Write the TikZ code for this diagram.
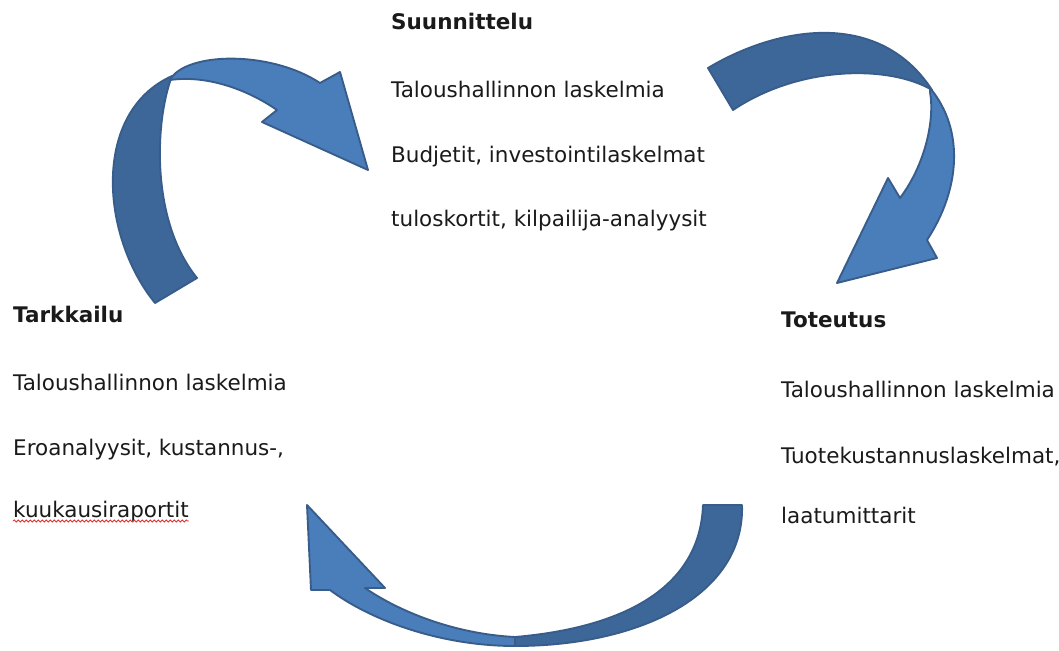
\documentclass[tikz,border=0pt]{standalone}
\usepackage{fontspec}
\setmainfont{DejaVu Sans}
\usetikzlibrary{positioning, decorations.pathmorphing}
\definecolor{ink}{HTML}{1A1A1A}
\definecolor{bandlight}{HTML}{4A7EBB}
\definecolor{banddark}{HTML}{3D6799}
\definecolor{bandline}{HTML}{385D8A}
\definecolor{spell}{HTML}{E03030}

\begin{document}
\begin{tikzpicture}[
  x=1pt, y=-1pt,
  font=\fontsize{21.5}{25}\selectfont,
  txt/.style={anchor=base west, inner sep=0pt, text=ink},
  head/.style={txt, font=\fontsize{21.5}{25}\selectfont\bfseries},
  front/.style={fill=bandlight, draw=bandline, line width=1.9pt, line join=round},
  back/.style={front, fill=banddark},
  squiggle/.style={draw=spell, line width=0.8pt,
                   decorate, decoration={snake, amplitude=1pt, segment length=4pt}}
]
  \useasboundingbox (0,0) rectangle (1059,650);

  % Suunnittelu
  \node[head] (s0) at (391,30) {Suunnittelu};
  \node[txt, below=68pt of s0.base west, anchor=base west] (s1) {Taloushallinnon laskelmia};
  \node[txt, below=64pt of s1.base west, anchor=base west] (s2) {Budjetit, investointilaskelmat};
  \node[txt, below=64pt of s2.base west, anchor=base west] (s3) {tuloskortit, kilpailija-analyysit};

  % Tarkkailu
  \node[head] (k0) at (13,322) {Tarkkailu};
  \node[txt, below=68pt of k0.base west, anchor=base west] (k1) {Taloushallinnon laskelmia};
  \node[txt, below=65pt of k1.base west, anchor=base west] (k2) {Eroanalyysit, kustannus-,};
  \node[txt, below=62pt of k2.base west, anchor=base west] (k3) {kuukausiraportit};
  \draw[squiggle] ([yshift=-4pt]k3.base west) -- ([yshift=-4pt]k3.base east);

  % Toteutus
  \node[head] (t0) at (781,327) {Toteutus};
  \node[txt, below=70pt of t0.base west, anchor=base west] (t1) {Taloushallinnon laskelmia};
  \node[txt, below=66pt of t1.base west, anchor=base west] (t2) {Tuotekustannuslaskelmat,};
  \node[txt, below=60pt of t2.base west, anchor=base west] (t3) {laatumittarit};

  % Tarkkailu -> Suunnittelu
  \path[back] (155,303) .. controls (100,235) and (92,112) .. (172,76)
    .. controls (155,120) and (150,220) .. (197,278) -- cycle;
  \path[front] (170,80) .. controls (185,52) and (270,50) .. (320,83)
    -- (340,72) -- (368,170) -- (262,122) -- (277,110)
    .. controls (245,88) and (205,75) .. (170,80) -- cycle;

  % Suunnittelu -> Toteutus
  \path[back] (708,68) .. controls (780,25) and (880,10) .. (932,90)
    .. controls (890,65) and (800,65) .. (733,110) -- cycle;
  \path[front] (930,88) .. controls (965,130) and (960,190) .. (927,240)
    -- (937,258) -- (837,283) -- (888,178) -- (900,198)
    .. controls (925,165) and (935,120) .. (930,92) -- cycle;

  % Toteutus -> Tarkkailu
  \path[back] (742,505) .. controls (745,595) and (640,646) .. (515,646)
    -- (515,637) .. controls (620,628) and (700,590) .. (703,505) -- cycle;
  \path[front] (515,646) .. controls (440,646) and (370,620) .. (330,590)
    -- (311,590) -- (307,505) -- (385,588) -- (365,588)
    .. controls (400,612) and (455,634) .. (515,637) -- cycle;
\end{tikzpicture}
\end{document}
